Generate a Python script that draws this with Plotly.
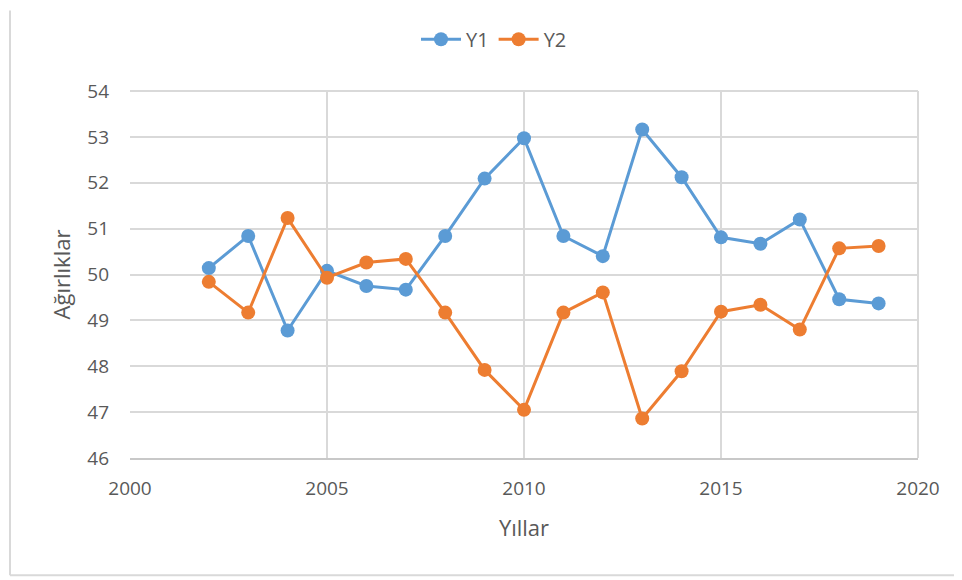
import plotly.graph_objects as go

years = list(range(2002, 2020))
y1 = [50.14, 50.84, 48.78, 50.08, 49.75, 49.67, 50.84, 52.09, 52.97,
      50.84, 50.40, 53.16, 52.12, 50.81, 50.67, 51.20, 49.46, 49.37]
y2 = [49.84, 49.17, 51.23, 49.93, 50.26, 50.34, 49.17, 47.92, 47.05,
      49.17, 49.61, 46.86, 47.89, 49.19, 49.34, 48.80, 50.57, 50.62]

blue = "#5B9BD5"
orange = "#ED7D31"
font_fam = "Open Sans, Liberation Sans, sans-serif"
grid = "#D9D9D9"
txt = "#595959"

fig = go.Figure()
fig.add_trace(go.Scatter(x=years, y=y1, name="Y1", mode="lines+markers",
                         line=dict(color=blue, width=3),
                         marker=dict(color=blue, size=14)))
fig.add_trace(go.Scatter(x=years, y=y2, name="Y2", mode="lines+markers",
                         line=dict(color=orange, width=3),
                         marker=dict(color=orange, size=14)))

# page body has an 8px offset; figure drawn at (8,8)
OFF = 8
W, H = 954, 572
L, R, T, B = 122, 44, 81, 122
pw, ph = W - L - R, H - T - B

def px(x):  # x in screenshot pixels -> paper
    return (x - OFF - L) / pw

def py(y):
    return (H - B - (y - OFF)) / ph

fig.update_layout(
    width=W, height=H,
    margin=dict(l=L, r=R, t=T, b=B),
    paper_bgcolor="white", plot_bgcolor="white",
    font=dict(family=font_fam, color=txt, size=19),
    legend=dict(orientation="h", x=px(494), y=py(37), xanchor="center",
                yanchor="middle", font=dict(size=20, color=txt),
                itemwidth=40),
    showlegend=True,
    xaxis=dict(range=[2000, 2020], dtick=5, tick0=2000,
               showgrid=True, gridcolor=grid, gridwidth=2,
               showline=True, linecolor="#C8C8C8", linewidth=2, mirror=False,
               zeroline=False, ticklabelstandoff=12,
               tickfont=dict(size=19, color=txt),
               title=dict(text="Yıllar", font=dict(size=22, color=txt), standoff=21)),
    yaxis=dict(range=[46, 54], dtick=1,
               showgrid=True, gridcolor=grid, gridwidth=2,
               showline=False, zeroline=False, ticklabelstandoff=20,
               tickfont=dict(size=19, color=txt),
               title=dict(text="Ağırlıklar", font=dict(size=22, color=txt), standoff=10)),
    shapes=[
        dict(type="line", xref="paper", yref="paper", x0=px(10), x1=px(10),
             y0=py(8), y1=py(576), line=dict(color="#D9D9D9", width=2)),
        dict(type="line", xref="paper", yref="paper", x0=px(10), x1=px(962),
             y0=py(576), y1=py(576), line=dict(color="#D9D9D9", width=2)),
        dict(type="line", xref="paper", yref="paper", x0=1, x1=1,
             y0=0, y1=1, line=dict(color=grid, width=2)),
        dict(type="line", xref="paper", yref="paper", x0=0, x1=1,
             y0=1, y1=1, line=dict(color=grid, width=2)),
    ],
)

fig.write_html("out.html")
